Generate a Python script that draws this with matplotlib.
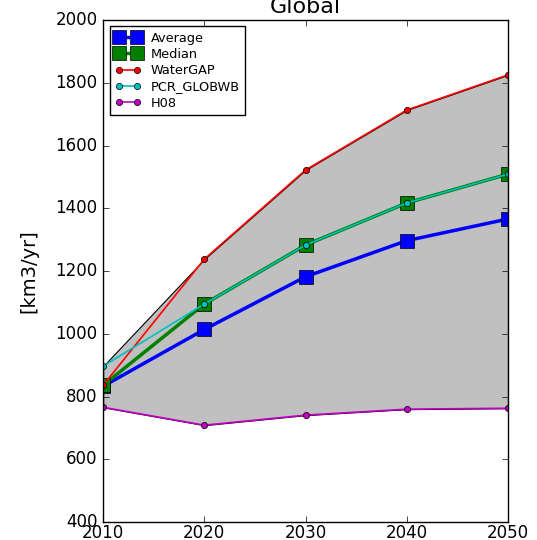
import matplotlib
matplotlib.use('Agg')
import matplotlib.pyplot as plt
import numpy as np

plt.style.use('classic')

# Data (km3/yr)
years = [2010, 2020, 2030, 2040, 2050]
watergap = [836, 1238, 1522, 1713, 1825]
pcr_globwb = [897, 1095, 1283, 1417, 1509]
h08 = [766, 709, 741, 760, 763]
average = [833, 1014, 1182, 1297, 1366]
median = [836, 1095, 1283, 1417, 1509]

fig = plt.figure(figsize=(5.37, 5.40), dpi=100)
fig.patch.set_facecolor('white')
ax = fig.add_axes([0.192, 0.033, 0.754, 0.930])

models = np.array([watergap, pcr_globwb, h08])
ax.fill_between(years, models.min(axis=0), models.max(axis=0),
                facecolor='#c0c0c0', edgecolor='k', linewidth=0.8)

ax.plot(years, average, 'b-s', lw=2.5, ms=10, label='Average')
ax.plot(years, median, 'g-s', lw=2.5, ms=10, label='Median')
ax.plot(years, watergap, 'r-o', lw=1.2, ms=4.5, label='WaterGAP')
ax.plot(years, pcr_globwb, 'c-o', lw=1.2, ms=4.5, label='PCR_GLOBWB')
ax.plot(years, h08, 'm-o', lw=1.2, ms=4.5, label='H08')

ax.set_xlim(2010, 2050)
ax.set_ylim(400, 2000)
ax.set_xticks(years)
ax.set_yticks(range(400, 2001, 200))
ax.ticklabel_format(useOffset=False)
ax.tick_params(labelsize=12)
ax.tick_params(axis='x', pad=1)
ax.set_ylabel('[km3/yr]', fontsize=14, labelpad=12)
ax.set_title('Global', fontsize=16)

leg = ax.legend(loc='upper left', fontsize=9.3, numpoints=2, fancybox=False,
                handlelength=2, borderaxespad=0.5, labelspacing=0.25)
leg.get_frame().set_edgecolor('k')

fig.savefig('out.png', dpi=100, facecolor='white')
